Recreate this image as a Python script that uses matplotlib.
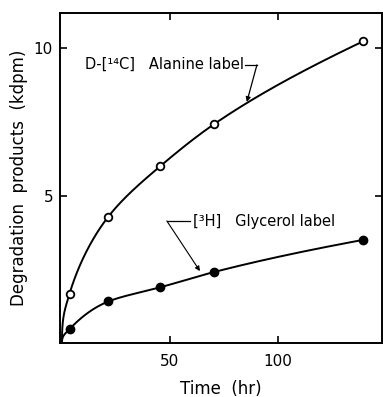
import numpy as np
import matplotlib
matplotlib.use("Agg")
import matplotlib.pyplot as plt

# Data
time_hr = [3.5, 21.5, 45.5, 70.5, 139.5]
alanine = [1.67, 4.29, 6.0, 7.43, 10.24]
glycerol = [0.47, 1.41, 1.89, 2.41, 3.50]
x_ticks = [50, 100]
y_ticks = [5, 10]


def pchip(x, y, xs):
    x = np.asarray(x, float); y = np.asarray(y, float)
    h = np.diff(x); d = np.diff(y) / h
    m = np.zeros_like(y)
    for k in range(1, len(x) - 1):
        if d[k - 1] * d[k] > 0:
            w1 = 2 * h[k] + h[k - 1]; w2 = h[k] + 2 * h[k - 1]
            m[k] = (w1 + w2) / (w1 / d[k - 1] + w2 / d[k])
    m[0] = d[0] * 1.6
    m[-1] = d[-1]
    out = np.empty_like(xs)
    for i, xv in enumerate(xs):
        k = min(max(np.searchsorted(x, xv) - 1, 0), len(x) - 2)
        t = (xv - x[k]) / h[k]
        h00 = 2 * t**3 - 3 * t**2 + 1; h10 = t**3 - 2 * t**2 + t
        h01 = -2 * t**3 + 3 * t**2; h11 = t**3 - t**2
        out[i] = h00 * y[k] + h10 * h[k] * m[k] + h01 * y[k + 1] + h11 * h[k] * m[k + 1]
    return out


fig = plt.figure(figsize=(3.83, 3.97), dpi=100)
ax = fig.add_axes([60 / 383, 54 / 397, 322 / 383, 330 / 397])

# smooth curves through origin and the points (sqrt-space for a steep start)
for ys in (alanine, glycerol):
    xs_pts = np.sqrt([0.0] + time_hr)
    ys_pts = [0.0] + ys
    xx = np.linspace(0, xs_pts[-1], 300)
    yy = pchip(xs_pts, ys_pts, xx)
    ax.plot(xx**2, yy, color="black", lw=1.4, zorder=2)

ax.plot(time_hr, alanine, "o", ms=5.5, mfc="white", mec="black", mew=1.3, zorder=3, clip_on=False)
ax.plot(time_hr, glycerol, "o", ms=6, mfc="black", mec="black", zorder=3, clip_on=False)

ax.set_xlim(-0.9, 148.2)
ax.set_ylim(0, 11.2)
ax.set_xticks(x_ticks)
ax.set_yticks(y_ticks)
ax.set_xticklabels([str(v) for v in x_ticks])
ax.set_yticklabels([str(v) for v in y_ticks])
ax.tick_params(direction="in", length=5, width=1.2, top=True, right=True, labelsize=11)
ax.tick_params(axis="y", pad=5)
ax.tick_params(axis="x", pad=8)
for s in ax.spines.values():
    s.set_linewidth(1.4)

ax.set_xlabel("Time  (hr)", fontsize=12, labelpad=8)
ax.set_ylabel("Degradation  products  (kdpm)", fontsize=12, labelpad=4)

ax.text(10.6, 9.47, "D-[¹⁴C]   Alanine label", fontsize=10.5, va="center", ha="left")
ax.plot([84.8, 90.3], [9.44, 9.44], color="black", lw=0.9)
ax.annotate("", xy=(85.6, 8.18), xytext=(90.3, 9.44),
            arrowprops=dict(arrowstyle="-|>", lw=0.9, color="black", mutation_scale=7,
                            shrinkA=0, shrinkB=0))

ax.text(60.6, 4.12, "[³H]   Glycerol label", fontsize=10.5, va="center", ha="left")
ax.plot([48.6, 59.4], [4.14, 4.14], color="black", lw=0.9)
ax.annotate("", xy=(63.9, 2.44), xytext=(48.6, 4.14),
            arrowprops=dict(arrowstyle="-|>", lw=0.8, color="black", mutation_scale=7,
                            shrinkA=0, shrinkB=0))

fig.savefig("out.png", dpi=100)
